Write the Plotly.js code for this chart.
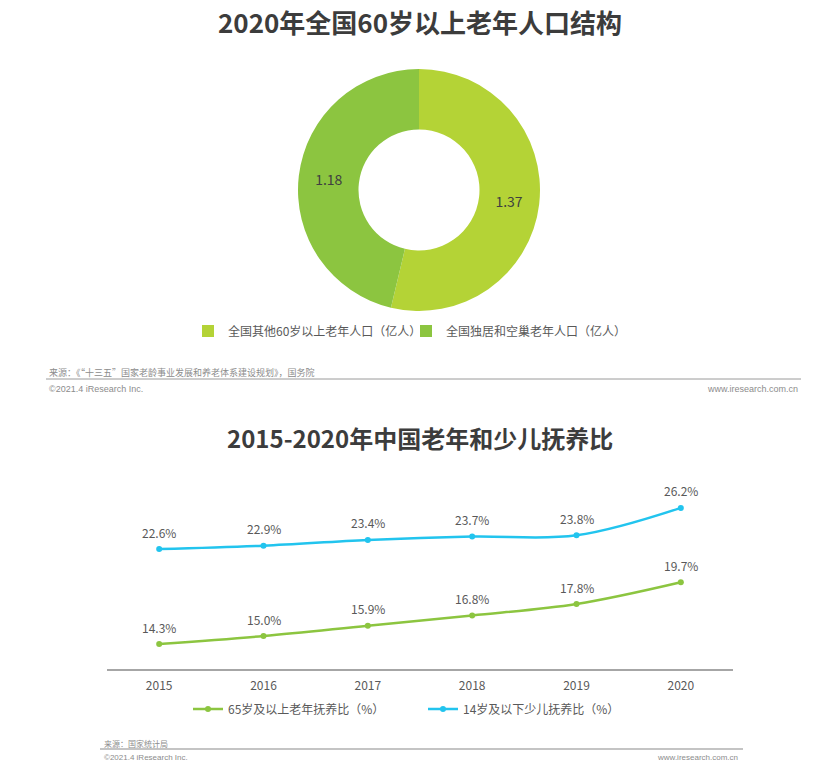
<!DOCTYPE html>
<html>
<head>
<meta charset="utf-8">
<script src="https://cdn.plot.ly/plotly-3.0.1.min.js"></script>
<style>
html,body{margin:0;padding:0;background:#fff;}
#chart{width:829px;height:778px;}
</style>
</head>
<body>
<div id="chart"></div>
<script>
// ---- Data ----
var pieLabels = ['全国其他60岁以上老年人口（亿人）', '全国独居和空巢老年人口（亿人）'];
var pieValues = [1.37, 1.18];
var pieColors = ['#b4d336', '#8cc540'];

var years = ['2015', '2016', '2017', '2018', '2019', '2020'];
var elderlyRatio = [14.3, 15.0, 15.9, 16.8, 17.8, 19.7];
var childRatio = [22.6, 22.9, 23.4, 23.7, 23.8, 26.2];
var seriesNames = ['65岁及以上老年抚养比（%）', '14岁及以下少儿抚养比（%）'];
var seriesColors = ['#8cc540', '#22c4ee'];

var title1 = '2020年全国60岁以上老年人口结构';
var title2 = '2015-2020年中国老年和少儿抚养比';
var source1 = '来源：《“十三五”国家老龄事业发展和养老体系建设规划》，国务院';
var source2 = '来源：国家统计局';
var copyright = '©2021.4 iResearch Inc.';
var website = 'www.iresearch.com.cn';

// ---- Helpers (pixel -> paper) ----
var W = 829, H = 778;
function px(x){ return x / W; }
function py(y){ return 1 - y / H; }

var CJK = '"Noto Sans CJK SC", "Noto Sans", sans-serif';
var LAT = '"Liberation Sans", Arial, sans-serif';

var traces = [
  {
    type: 'pie',
    labels: pieLabels,
    values: pieValues,
    marker: {colors: pieColors, line: {width: 0}},
    hole: 0.5,
    sort: false,
    direction: 'clockwise',
    rotation: 0,
    textinfo: 'value',
    texttemplate: '%{value:.2f}',
    textposition: 'inside',
    insidetextorientation: 'horizontal',
    textfont: {size: 14, color: '#404040', family: CJK},
    domain: {x: [px(298), px(540)], y: [py(311), py(69)]},
    legend: 'legend',
    hoverinfo: 'label+value'
  },
  {
    type: 'scatter',
    mode: 'lines+markers',
    x: years,
    y: elderlyRatio,
    name: seriesNames[0],
    line: {color: seriesColors[0], width: 2.5, shape: 'spline', smoothing: 1},
    marker: {color: seriesColors[0], size: 6},
    xaxis: 'x', yaxis: 'y',
    legend: 'legend2'
  },
  {
    type: 'scatter',
    mode: 'lines+markers',
    x: years,
    y: childRatio,
    name: seriesNames[1],
    line: {color: seriesColors[1], width: 2.5, shape: 'spline', smoothing: 1},
    marker: {color: seriesColors[1], size: 6},
    xaxis: 'x', yaxis: 'y',
    legend: 'legend2'
  }
];

var annotations = [];
function addLabels(vals){
  for (var i = 0; i < years.length; i++){
    annotations.push({
      x: i, y: vals[i], xref: 'x', yref: 'y',
      text: vals[i].toFixed(1) + '%',
      showarrow: false, yshift: 17,
      xanchor: 'center', yanchor: 'middle',
      font: {size: 12, color: '#595959', family: CJK}
    });
  }
}
addLabels(elderlyRatio);
addLabels(childRatio);

annotations.push(
  {xref: 'paper', yref: 'paper', x: px(420), y: py(437), text: title2,
   showarrow: false, xanchor: 'center', yanchor: 'middle',
   font: {size: 24, color: '#3c3c3c', family: CJK, weight: 'bold'}},
  {xref: 'paper', yref: 'paper', x: px(47), y: py(372), text: source1,
   showarrow: false, xanchor: 'left', yanchor: 'middle',
   font: {size: 9, color: '#8c8c8c', family: CJK}},
  {xref: 'paper', yref: 'paper', x: px(47), y: py(389), text: copyright,
   showarrow: false, xanchor: 'left', yanchor: 'middle',
   font: {size: 9, color: '#8c8c8c', family: LAT}},
  {xref: 'paper', yref: 'paper', x: px(800), y: py(389), text: website,
   showarrow: false, xanchor: 'right', yanchor: 'middle',
   font: {size: 9, color: '#8c8c8c', family: LAT}},
  {xref: 'paper', yref: 'paper', x: px(102), y: py(743), text: source2,
   showarrow: false, xanchor: 'left', yanchor: 'middle',
   font: {size: 8, color: '#8c8c8c', family: CJK}},
  {xref: 'paper', yref: 'paper', x: px(102), y: py(757), text: copyright,
   showarrow: false, xanchor: 'left', yanchor: 'middle',
   font: {size: 8, color: '#8c8c8c', family: LAT}},
  {xref: 'paper', yref: 'paper', x: px(740), y: py(757), text: website,
   showarrow: false, xanchor: 'right', yanchor: 'middle',
   font: {size: 8, color: '#8c8c8c', family: LAT}}
);

var layout = {
  width: W, height: H, autosize: false,
  margin: {l: 0, r: 0, t: 0, b: 0},
  paper_bgcolor: '#ffffff', plot_bgcolor: '#ffffff',
  font: {family: CJK, color: '#595959'},
  title: {
    text: title1, x: px(420), xanchor: 'center', y: py(24), yanchor: 'middle',
    xref: 'paper', yref: 'paper',
    font: {size: 26, color: '#3c3c3c', family: CJK, weight: 'bold'}
  },
  showlegend: true,
  legend: {
    orientation: 'h', x: px(188), xanchor: 'left', y: py(331), yanchor: 'middle',
    font: {size: 12, color: '#595959', family: CJK},
    bgcolor: 'rgba(0,0,0,0)', traceorder: 'normal',
    entrywidth: 173, entrywidthmode: 'pixels'
  },
  legend2: {
    orientation: 'h', x: px(188), xanchor: 'left', y: py(709), yanchor: 'middle',
    font: {size: 12, color: '#595959', family: CJK},
    bgcolor: 'rgba(0,0,0,0)', traceorder: 'normal',
    entrywidth: 190, entrywidthmode: 'pixels'
  },
  xaxis: {
    type: 'category', domain: [px(107), px(733)], anchor: 'y',
    range: [-0.5, 5.5], showline: true, linecolor: '#a6a6a6', linewidth: 2,
    showgrid: false, zeroline: false, ticks: '', ticklabelstandoff: 5,
    tickfont: {size: 12, color: '#595959', family: CJK},
    fixedrange: true
  },
  yaxis: {
    domain: [py(669), py(469)], anchor: 'x',
    range: [12.12, 29.6], showticklabels: false, showline: false, ticks: '',
    showgrid: false, zeroline: false,
    fixedrange: true
  },
  shapes: [
    {type: 'line', xref: 'paper', yref: 'paper', x0: px(46), x1: px(801), y0: py(379), y1: py(379),
     line: {color: '#9a9a9a', width: 1}},
    {type: 'line', xref: 'paper', yref: 'paper', x0: px(100), x1: px(743), y0: py(749), y1: py(749),
     line: {color: '#b0b0b0', width: 1.5}}
  ],
  annotations: annotations
};

Plotly.newPlot('chart', traces, layout, {displayModeBar: false, staticPlot: true});
</script>
</body>
</html>
